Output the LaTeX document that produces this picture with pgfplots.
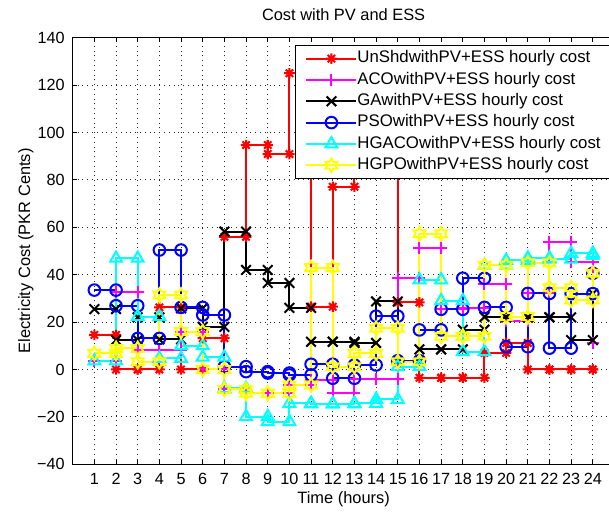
\documentclass[border=0pt]{standalone}
\usepackage{fontspec}
\setmainfont{Liberation Sans}
\usepackage{pgfplots}
\usepackage{pgfplotstable}
\pgfplotsset{compat=1.18}

\pgfdeclareplotmark{mstar}{%
  \pgfpathmoveto{\pgfpoint{0pt}{\pgfplotmarksize}}\pgfpathlineto{\pgfpoint{0pt}{-\pgfplotmarksize}}%
  \pgfpathmoveto{\pgfpoint{\pgfplotmarksize}{0pt}}\pgfpathlineto{\pgfpoint{-\pgfplotmarksize}{0pt}}%
  \pgfpathmoveto{\pgfpoint{.707\pgfplotmarksize}{.707\pgfplotmarksize}}\pgfpathlineto{\pgfpoint{-.707\pgfplotmarksize}{-.707\pgfplotmarksize}}%
  \pgfpathmoveto{\pgfpoint{-.707\pgfplotmarksize}{.707\pgfplotmarksize}}\pgfpathlineto{\pgfpoint{.707\pgfplotmarksize}{-.707\pgfplotmarksize}}%
  \pgfusepathqstroke}
\pgfdeclareplotmark{hexagram}{%
  \pgfpathmoveto{\pgfpointpolar{90}{\pgfplotmarksize}}%
  \pgfpathlineto{\pgfpointpolar{120}{0.577\pgfplotmarksize}}%
  \pgfpathlineto{\pgfpointpolar{150}{\pgfplotmarksize}}%
  \pgfpathlineto{\pgfpointpolar{180}{0.577\pgfplotmarksize}}%
  \pgfpathlineto{\pgfpointpolar{210}{\pgfplotmarksize}}%
  \pgfpathlineto{\pgfpointpolar{240}{0.577\pgfplotmarksize}}%
  \pgfpathlineto{\pgfpointpolar{270}{\pgfplotmarksize}}%
  \pgfpathlineto{\pgfpointpolar{300}{0.577\pgfplotmarksize}}%
  \pgfpathlineto{\pgfpointpolar{330}{\pgfplotmarksize}}%
  \pgfpathlineto{\pgfpointpolar{0}{0.577\pgfplotmarksize}}%
  \pgfpathlineto{\pgfpointpolar{30}{\pgfplotmarksize}}%
  \pgfpathlineto{\pgfpointpolar{60}{0.577\pgfplotmarksize}}%
  \pgfpathclose\pgfusepathqstroke}

\definecolor{mred}{rgb}{1,0,0}
\definecolor{mmag}{rgb}{1,0,1}
\definecolor{mblk}{rgb}{0,0,0}
\definecolor{mblu}{rgb}{0,0,1}
\definecolor{mcyn}{rgb}{0,1,1}
\definecolor{myel}{rgb}{1,1,0}

\pgfplotstableread{
h  r     m     k     b     c     y
1  14.6  3.4   25.5  33.5  3.6   6.8
2  0     32.5  12.4  26.9  46.9  8.9
3  0     8.2   22.0  13.1  22.3  3.3
4  26.2  8.2   12.7  50.4  4.7   31.4
5  0     16.0  25.8  26.2  10.0  16.0
6  13.2  0     18.0  23.0  5.2   0
7  56.0  -8.4  58.2  1.2   -8.0  -8.4
8  94.7  -10.0 42.0  -0.9  -19.9 -10.0
9  90.9  -10.0 36.5  -1.5  -22.0 -10.0
10 125.0 -6.5  26.0  -2.3  -14.3 -6.5
11 26.5  -4.4  11.7  2.2   -14.5 43.0
12 77.1  -9.8  11.7  -3.7  -14.5 1.2
13 110.0 -4.0  11.2  1.9   -14.3 6.8
14 110.0 -4.0  28.7  22.5  -12.6 17.4
15 28.3  38.5  3.5   3.7   1.2   3.3
16 -3.5  51.3  8.5   16.7  37.8  57.3
17 -3.5  25.5  8.5   25.4  29.0  14.0
18 -3.5  25.8  16.8  38.5  7.5   14.0
19 7.0   36.0  22.2  26.2  44.0  44.0
20 11.2  20.4  22.0  9.6   46.0  22.3
21 0     32.4  22.0  32.1  47.0  45.0
22 0     54.0  22.0  9.0   46.5  34.5
23 0     45.5  12.4  32.0  49.0  29.3
24 0     11.0  32.0  40.6  48.0  40.6
}\costdata

\begin{document}
\begin{tikzpicture}
\useasboundingbox (-36.35pt,-23.85pt) rectangle (268.15pt,232.15pt);
\begin{axis}[
  at={(0pt,0pt)}, anchor=south west,
  scale only axis, width=270.9pt, height=213.3pt,
  xmin=0, xmax=25, ymin=-40, ymax=140,
  xtick={1,2,3,4,5,6,7,8,9,10,11,12,13,14,15,16,17,18,19,20,21,22,23,24},
  ytick={-40,-20,0,20,40,60,80,100,120,140},
  yticklabels={−40,−20,0,20,40,60,80,100,120,140},
  /pgf/number format/assume math mode=true,
  tick align=inside, major tick length=2pt,
  tick style={black, line width=0.5pt},
  axis line style={line width=0.5pt},
  grid=major,
  major grid style={black!85, dotted, line width=0.45pt},
  tick label style={font=\fontsize{8.1}{9.6}\selectfont},
  xticklabel style={anchor=base, yshift=-10.2pt},
  yticklabel style={anchor=east, xshift=-0.5pt},
  every axis title/.style={at={(axis description cs:0.5,1)}, anchor=base, yshift=8.5pt, font=\fontsize{8.2}{10}\selectfont},
  every axis x label/.style={at={(axis description cs:0.5,0)}, anchor=base, yshift=-19.5pt, font=\fontsize{8.2}{10}\selectfont},
  every axis y label/.style={at={(axis description cs:-0.0788,0.5)}, rotate=90, anchor=base, font=\fontsize{8.2}{10}\selectfont},
  title={Cost with PV and ESS},
  xlabel={Time (hours)},
  ylabel={Electricity Cost (PKR Cents)},
  every axis plot/.append style={line width=1pt},
  legend cell align=left,
  legend style={at={(0.4103,0.9829)}, anchor=north west, draw=black, fill=white,
    font=\fontsize{8.4}{9.6}\selectfont, inner xsep=5pt, inner ysep=2.3pt,
    nodes={inner sep=0pt, text height=6.4pt, text depth=2.2pt},
    row sep=2.07pt, /tikz/every even column/.append style={column sep=4.5pt}},
  legend image code/.code={\draw[mark repeat=2,mark phase=2,#1] plot coordinates {(0pt,0pt) (12.5pt,0pt) (25pt,0pt)};},
]
\addplot[mred, const plot, mark=mstar, mark size=2.6pt] table[x=h, y=r] {\costdata};
\addlegendentry{UnShdwithPV+ESS hourly cost\hspace{2pt}}
\addplot[mred, only marks, mark=mstar, mark size=2.6pt, forget plot] table[x expr=\thisrow{h}+1, y=r, skip coords between index={23}{24}] {\costdata};

\addplot[mmag, const plot, mark=+, mark size=3pt] table[x=h, y=m] {\costdata};
\addlegendentry{ACOwithPV+ESS hourly cost}
\addplot[mmag, only marks, mark=+, mark size=3pt, forget plot] table[x expr=\thisrow{h}+1, y=m, skip coords between index={23}{24}] {\costdata};

\addplot[mblk, const plot, mark=x, mark size=3.4pt] table[x=h, y=k] {\costdata};
\addlegendentry{GAwithPV+ESS hourly cost}
\addplot[mblk, only marks, mark=x, mark size=3.4pt, forget plot] table[x expr=\thisrow{h}+1, y=k, skip coords between index={23}{24}] {\costdata};

\addplot[mblu, const plot, mark=o, mark size=2.9pt] table[x=h, y=b] {\costdata};
\addlegendentry{PSOwithPV+ESS hourly cost}
\addplot[mblu, only marks, mark=o, mark size=2.9pt, forget plot] table[x expr=\thisrow{h}+1, y=b, skip coords between index={23}{24}] {\costdata};

\addplot[mcyn, const plot, mark=triangle, mark size=3.4pt] table[x=h, y=c] {\costdata};
\addlegendentry{HGACOwithPV+ESS hourly cost}
\addplot[mcyn, only marks, mark=triangle, mark size=3.4pt, forget plot] table[x expr=\thisrow{h}+1, y=c, skip coords between index={23}{24}] {\costdata};

\addplot[myel, const plot, mark=hexagram, mark size=3.4pt] table[x=h, y=y] {\costdata};
\addlegendentry{HGPOwithPV+ESS hourly cost}
\addplot[myel, only marks, mark=hexagram, mark size=3.4pt, forget plot] table[x expr=\thisrow{h}+1, y=y, skip coords between index={23}{24}] {\costdata};
\end{axis}
\end{tikzpicture}
\end{document}
